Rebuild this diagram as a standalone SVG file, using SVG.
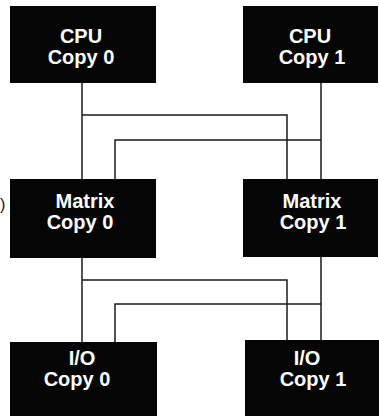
<svg xmlns="http://www.w3.org/2000/svg" width="379" height="416" viewBox="0 0 379 416">
<style>
.box{fill:#050505}
.lbl{font-family:"Liberation Sans",Arial,sans-serif;font-weight:bold;font-size:20px;fill:#fff;text-anchor:middle}
.wire{fill:none;stroke:#1a1a1a;stroke-width:1.5}
</style>
<rect width="379" height="416" fill="#fff"/>
<g id="connectors">
<path class="wire" d="M82,83 V179"/>
<path class="wire" d="M82,115 H287 V180"/>
<path class="wire" d="M321,83 V180"/>
<path class="wire" d="M115,179 V140 H321"/>
<path class="wire" d="M82,258 V342"/>
<path class="wire" d="M82,280 H287 V341"/>
<path class="wire" d="M321,257 V341"/>
<path class="wire" d="M115,342 V304 H321"/>
</g>
<g id="cpu0"><rect class="box" x="10" y="6" width="146" height="77"/><text class="lbl" x="81" y="43">CPU</text><text class="lbl" x="81" y="64">Copy 0</text></g>
<g id="cpu1"><rect class="box" x="243" y="6" width="135" height="77"/><text class="lbl" x="310" y="43">CPU</text><text class="lbl" x="312" y="64">Copy 1</text></g>
<g id="matrix0"><rect class="box" x="10" y="179" width="146" height="79"/><text class="lbl" x="85" y="208">Matrix</text><text class="lbl" x="80" y="229">Copy 0</text></g>
<g id="matrix1"><rect class="box" x="243" y="179" width="135" height="78"/><text class="lbl" x="312" y="208">Matrix</text><text class="lbl" x="313" y="229">Copy 1</text></g>
<g id="io0"><rect class="box" x="10" y="342" width="147" height="74"/><text class="lbl" x="82" y="365">I/O</text><text class="lbl" x="77" y="386">Copy 0</text></g>
<g id="io1"><rect class="box" x="245" y="340" width="134" height="76"/><text class="lbl" x="307" y="365">I/O</text><text class="lbl" x="313" y="386">Copy 1</text></g>
<text x="0" y="210" font-family="Liberation Sans,Arial,sans-serif" font-size="16" fill="#111">)</text>
</svg>
